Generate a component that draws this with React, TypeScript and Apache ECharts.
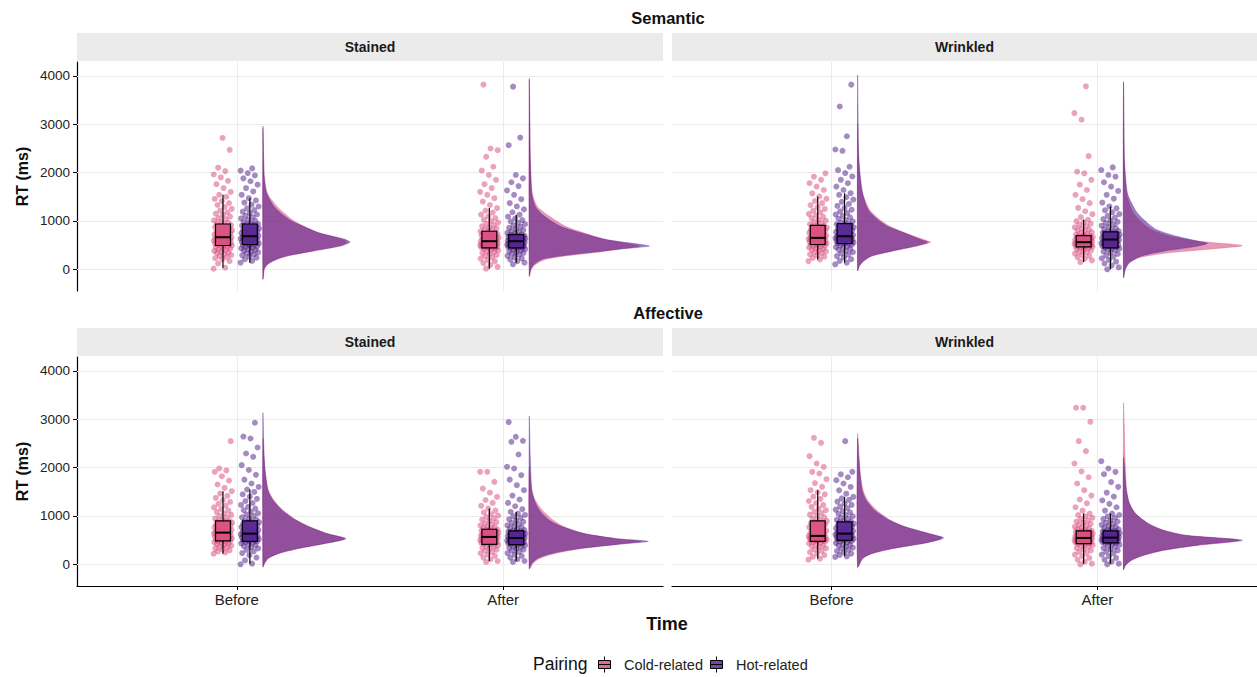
import React, { useEffect, useRef } from "react";
import * as echarts from "echarts";

// ---------- categories ----------
const ROWS = ["Semantic", "Affective"];
const COLS = ["Stained", "Wrinkled"];
const TIME_LABELS = ["Before", "After"];
const X_TICKS = [1, 2];
const Y_TICKS = [0, 1000, 2000, 3000, 4000];
const PAIRINGS = ["Cold-related", "Hot-related"];

// ---------- raw RT points (ms) ----------
// Semantic / Stained
const semStaBefCold = [14, 34, 120, 170, 205, 230, 255, 275, 295, 315, 335, 350, 365, 380, 395, 410, 425, 440, 455, 470, 482, 492, 500, 508, 516, 524, 532, 540, 548, 556, 564, 572, 580, 588, 596, 604, 612, 620, 628, 636, 644, 652, 658, 663, 675, 687, 699, 711, 723, 735, 747, 759, 771, 783, 795, 807, 820, 833, 846, 859, 872, 885, 898, 911, 924, 937, 960, 985, 1010, 1035, 1060, 1090, 1120, 1150, 1180, 1215, 1250, 1290, 1330, 1370, 1410, 1455, 1500, 1539, 1600, 1680, 1760, 1830, 1900, 1960, 2030, 2100, 2469, 2715];
const semStaBefHot = [137, 175, 210, 240, 265, 290, 310, 330, 350, 370, 388, 405, 420, 435, 450, 463, 476, 489, 501, 513, 521, 529, 537, 545, 553, 561, 569, 577, 585, 593, 601, 609, 617, 625, 633, 641, 649, 657, 665, 673, 679, 684, 695, 706, 717, 728, 739, 750, 761, 772, 783, 794, 806, 818, 830, 842, 854, 866, 878, 890, 902, 914, 926, 937, 958, 980, 1003, 1027, 1052, 1078, 1105, 1133, 1162, 1192, 1225, 1260, 1298, 1338, 1380, 1425, 1470, 1540, 1610, 1680, 1750, 1820, 1880, 1940, 1990, 2040, 2086];
const semStaAftCold = [14, 50, 90, 130, 165, 195, 222, 248, 272, 295, 317, 337, 356, 374, 391, 407, 422, 435, 445, 451, 457, 463, 469, 475, 481, 487, 493, 499, 505, 511, 517, 523, 529, 535, 541, 547, 553, 559, 565, 572, 581, 590, 599, 608, 617, 626, 635, 644, 653, 662, 671, 681, 691, 701, 711, 721, 731, 742, 753, 764, 775, 787, 805, 825, 846, 868, 891, 915, 940, 967, 996, 1027, 1060, 1095, 1132, 1172, 1215, 1265, 1330, 1400, 1470, 1540, 1600, 1680, 1760, 1850, 1950, 2040, 2120, 2326, 2462, 2497, 3817];
const semStaAftHot = [103, 137, 170, 200, 228, 254, 278, 300, 320, 339, 357, 374, 390, 405, 419, 432, 445, 451, 457, 463, 469, 475, 481, 487, 493, 499, 505, 511, 517, 523, 529, 535, 541, 547, 553, 559, 565, 572, 581, 587, 593, 599, 605, 611, 617, 623, 629, 635, 641, 648, 655, 662, 669, 676, 683, 690, 697, 704, 711, 718, 735, 753, 772, 792, 813, 835, 858, 882, 907, 933, 960, 988, 1018, 1050, 1088, 1129, 1180, 1240, 1300, 1368, 1450, 1540, 1630, 1720, 1800, 1880, 1950, 2565, 2722, 3776];
// Semantic / Wrinkled
const semWriBefCold = [171, 205, 235, 262, 287, 310, 332, 352, 371, 389, 406, 422, 437, 451, 465, 478, 490, 502, 513, 520, 527, 534, 541, 548, 555, 562, 569, 576, 583, 590, 597, 604, 611, 618, 625, 632, 639, 645, 650, 662, 674, 686, 698, 710, 722, 734, 746, 758, 770, 782, 795, 808, 821, 834, 847, 860, 873, 886, 898, 910, 932, 955, 979, 1004, 1030, 1057, 1085, 1115, 1146, 1178, 1212, 1248, 1286, 1326, 1368, 1412, 1458, 1505, 1570, 1640, 1710, 1780, 1850, 1915, 1984];
const semWriBefHot = [103, 137, 175, 210, 243, 274, 303, 330, 355, 378, 400, 421, 441, 460, 478, 495, 511, 523, 534, 541, 548, 555, 562, 569, 576, 583, 590, 597, 604, 611, 618, 625, 632, 639, 646, 653, 660, 667, 674, 679, 684, 696, 708, 720, 732, 744, 756, 768, 780, 792, 804, 817, 830, 843, 856, 869, 882, 895, 908, 921, 933, 944, 968, 993, 1019, 1046, 1074, 1103, 1133, 1165, 1198, 1233, 1270, 1310, 1352, 1396, 1442, 1490, 1540, 1573, 1640, 1710, 1780, 1850, 1920, 1990, 2050, 2120, 2449, 2476, 2750, 3365, 3817];
const semWriAftCold = [150, 185, 218, 248, 275, 300, 323, 345, 365, 384, 402, 419, 435, 450, 465, 470, 475, 480, 485, 490, 495, 500, 505, 510, 515, 520, 525, 530, 535, 540, 545, 550, 555, 561, 568, 575, 582, 589, 596, 603, 610, 617, 624, 631, 638, 645, 652, 659, 666, 674, 682, 690, 698, 713, 729, 746, 764, 783, 803, 824, 846, 869, 893, 918, 944, 971, 998, 1026, 1080, 1140, 1200, 1270, 1368, 1450, 1540, 1640, 1750, 1850, 1984, 2018, 2339, 3092, 3228, 3783];
const semWriAftHot = [0, 40, 80, 120, 158, 194, 228, 260, 290, 318, 344, 368, 390, 410, 428, 445, 453, 461, 469, 477, 485, 493, 501, 509, 517, 525, 533, 541, 549, 557, 565, 573, 581, 589, 597, 605, 616, 624, 632, 640, 648, 656, 664, 672, 680, 688, 696, 704, 712, 720, 728, 736, 745, 754, 763, 773, 792, 812, 833, 855, 878, 902, 927, 953, 980, 1008, 1038, 1070, 1105, 1142, 1180, 1220, 1260, 1300, 1380, 1460, 1540, 1620, 1710, 1800, 1915, 1950, 2052, 2107];
// Affective / Stained
const affStaBefCold = [221, 245, 268, 290, 311, 331, 350, 368, 385, 401, 416, 430, 444, 457, 470, 483, 491, 499, 507, 515, 523, 531, 539, 547, 555, 563, 571, 579, 587, 595, 603, 611, 619, 627, 635, 643, 650, 655, 666, 677, 688, 699, 710, 721, 732, 743, 754, 765, 777, 789, 801, 813, 825, 837, 849, 861, 873, 885, 897, 920, 944, 969, 995, 1022, 1050, 1080, 1111, 1143, 1177, 1213, 1251, 1290, 1330, 1372, 1416, 1462, 1511, 1580, 1650, 1730, 1820, 1911, 1940, 1980, 2546];
const affStaBefHot = [0, 14, 80, 140, 190, 232, 268, 300, 328, 353, 376, 397, 416, 434, 450, 464, 476, 484, 492, 500, 508, 516, 524, 532, 540, 548, 556, 564, 572, 580, 588, 596, 604, 612, 620, 628, 635, 647, 659, 671, 683, 695, 707, 719, 731, 743, 755, 767, 780, 793, 806, 819, 832, 845, 858, 871, 884, 897, 921, 946, 972, 999, 1027, 1056, 1087, 1119, 1153, 1189, 1227, 1267, 1309, 1353, 1399, 1447, 1496, 1546, 1600, 1670, 1750, 1850, 1950, 2050, 2222, 2290, 2415, 2600, 2640, 2926];
const affStaAftCold = [48, 69, 105, 140, 172, 202, 230, 256, 280, 303, 324, 344, 363, 381, 398, 414, 421, 428, 435, 442, 449, 456, 463, 470, 477, 484, 491, 498, 505, 512, 519, 526, 533, 540, 547, 554, 560, 566, 574, 582, 590, 598, 606, 614, 622, 630, 638, 646, 654, 662, 670, 678, 686, 694, 702, 710, 718, 725, 743, 762, 782, 803, 825, 848, 872, 897, 923, 950, 978, 1007, 1038, 1072, 1110, 1152, 1210, 1270, 1330, 1394, 1480, 1566, 1704, 1911, 1911];
const affStaAftHot = [48, 69, 105, 140, 172, 202, 230, 256, 280, 302, 322, 341, 359, 376, 392, 407, 414, 421, 428, 435, 442, 449, 456, 463, 470, 477, 484, 491, 498, 505, 512, 519, 526, 533, 540, 545, 552, 559, 566, 573, 580, 587, 594, 601, 608, 615, 622, 629, 636, 643, 650, 658, 666, 674, 682, 690, 707, 725, 744, 764, 785, 807, 830, 854, 879, 905, 932, 960, 990, 1020, 1050, 1083, 1140, 1200, 1270, 1340, 1420, 1532, 1635, 1750, 1842, 1980, 2015, 2270, 2532, 2553, 2636, 2939];
// Affective / Wrinkled
const affWriBefCold = [97, 117, 155, 190, 222, 252, 280, 306, 330, 353, 374, 394, 413, 430, 446, 461, 476, 482, 488, 494, 500, 506, 512, 518, 524, 530, 536, 542, 548, 554, 560, 566, 572, 578, 583, 587, 602, 617, 632, 647, 662, 677, 692, 707, 722, 737, 752, 768, 784, 800, 816, 832, 848, 864, 880, 897, 921, 946, 972, 999, 1027, 1056, 1087, 1119, 1153, 1189, 1227, 1267, 1309, 1353, 1399, 1447, 1490, 1532, 1601, 1680, 1760, 1877, 1911, 2015, 2084, 2236, 2512, 2615];
const affWriBefHot = [152, 166, 195, 223, 250, 275, 299, 322, 344, 365, 385, 404, 422, 439, 455, 470, 484, 497, 504, 511, 518, 525, 532, 539, 546, 553, 560, 567, 574, 581, 588, 595, 602, 609, 616, 623, 630, 635, 646, 657, 668, 679, 690, 701, 712, 723, 734, 745, 757, 769, 781, 793, 805, 817, 829, 841, 853, 865, 876, 897, 919, 942, 966, 991, 1017, 1044, 1072, 1101, 1131, 1162, 1194, 1227, 1261, 1296, 1332, 1363, 1394, 1460, 1530, 1600, 1670, 1739, 1800, 1860, 1911, 2546];
const affWriAftCold = [0, 14, 55, 95, 132, 167, 200, 231, 260, 287, 312, 335, 357, 377, 396, 413, 428, 434, 440, 446, 452, 458, 464, 470, 476, 482, 488, 494, 500, 506, 512, 518, 524, 530, 536, 541, 545, 552, 559, 566, 573, 580, 587, 594, 601, 608, 615, 622, 630, 638, 646, 654, 662, 670, 678, 686, 690, 705, 721, 738, 756, 775, 795, 816, 838, 861, 885, 910, 936, 962, 990, 1019, 1049, 1110, 1180, 1260, 1340, 1420, 1532, 1670, 1800, 1920, 2084, 2339, 2546, 2946, 3236, 3236];
const affWriAftHot = [0, 14, 55, 95, 132, 167, 200, 231, 260, 287, 312, 336, 359, 381, 402, 422, 442, 448, 454, 460, 466, 472, 478, 484, 490, 496, 502, 508, 514, 520, 526, 532, 538, 544, 549, 552, 559, 566, 573, 580, 587, 594, 601, 608, 615, 622, 629, 636, 643, 650, 658, 666, 674, 682, 690, 705, 721, 738, 756, 775, 795, 816, 838, 861, 885, 910, 936, 962, 990, 1019, 1049, 1110, 1180, 1250, 1320, 1400, 1480, 1601, 1700, 1863, 1911, 1980, 2132];

// ---------- box statistics [lower whisker, Q1, median, Q3, upper whisker] ----------
const boxSemStaBefore = [[34, 492, 663, 937, 1539], [137, 513, 684, 937, 1470]];
const boxSemStaAfter = [[14, 445, 581, 787, 1265], [137, 445, 581, 718, 1129]];
const boxSemWriBefore = [[205, 513, 650, 910, 1505], [137, 534, 684, 944, 1573]];
const boxSemWriAfter = [[150, 465, 561, 698, 1026], [0, 445, 616, 773, 1300]];
const boxAffStaBefore = [[221, 483, 655, 897, 1511], [14, 476, 635, 897, 1546]];
const boxAffStaAfter = [[69, 414, 566, 725, 1152], [69, 407, 545, 690, 1083]];
const boxAffWriBefore = [[117, 476, 587, 897, 1532], [166, 497, 635, 876, 1394]];
const boxAffWriAfter = [[14, 428, 545, 690, 1049], [14, 442, 552, 690, 1049]];

// ---------- density curves [RT (ms), density (a.u.)] ----------
const densSemStaBefCold = [[2900, 0], [2400, 0.6], [1900, 1.5], [1570, 4.5], [1300, 14], [1030, 29], [890, 41], [750, 56], [620, 79], [560, 84], [480, 76], [380, 51], [275, 25], [205, 14], [135, 7], [70, 3.3], [0, 1.3], [-200, 0]];
const densSemStaBefHot = [[2950, 0], [2200, 0.8], [1900, 1.3], [1570, 3.8], [1300, 11], [1030, 26], [890, 40], [750, 57], [620, 82], [560, 87], [480, 77], [380, 50], [275, 23], [205, 13], [135, 6.5], [70, 3], [0, 1.2], [-200, 0]];
const densSemStaAftCold = [[3900, 0], [3000, 0.5], [2260, 1.2], [1570, 3], [1300, 8], [1100, 20], [890, 36], [750, 55], [615, 76], [510, 104], [480, 110], [410, 88], [340, 63], [275, 36], [205, 16], [100, 6], [0, 2], [-140, 0]];
const densSemStaAftHot = [[3930, 0], [3000, 0.6], [2260, 1], [1570, 2.5], [1300, 6], [1100, 15], [890, 31], [750, 52], [615, 77], [510, 113], [480, 120], [410, 87], [340, 58], [275, 30], [205, 12], [100, 4.5], [0, 1.5], [-140, 0]];
const densSemWriBefCold = [[3000, 0], [2600, 0.6], [2260, 1.2], [1915, 2.5], [1570, 5], [1230, 12], [1030, 22], [890, 32], [750, 48], [615, 66], [560, 73], [480, 59], [375, 34], [275, 14], [170, 6], [70, 1.7], [-30, 0]];
const densSemWriBefHot = [[4000, 0], [3400, 0.4], [2600, 0.8], [2260, 1.3], [1915, 2.7], [1570, 5], [1230, 10.5], [1030, 20], [890, 30], [750, 47], [615, 63], [560, 70], [480, 58], [375, 34], [275, 14], [170, 6], [70, 1.7], [-30, 0]];
const densSemWriAftCold = [[3860, 0], [2260, 0.8], [1570, 3], [1370, 5.5], [1160, 10], [960, 19], [820, 28], [685, 47], [580, 76], [490, 119], [425, 90], [340, 45], [240, 15], [135, 5], [0, 1.5], [-170, 0]];
const densSemWriAftHot = [[3860, 0], [2260, 1], [1915, 2], [1570, 4], [1370, 8], [1160, 14], [960, 24], [820, 33], [685, 53], [580, 75], [535, 84], [465, 70], [375, 40], [275, 18], [135, 6], [0, 2], [-170, 0]];
const densAffStaBefCold = [[2600, 0], [2220, 1], [1880, 2.4], [1530, 5.5], [1325, 11], [1120, 20], [910, 34], [775, 47], [635, 64], [530, 81], [430, 62], [325, 35], [220, 15], [120, 5], [15, 1.5], [-55, 0]];
const densAffStaBefHot = [[3120, 0], [2570, 0.7], [2220, 1.3], [1880, 2.5], [1530, 5], [1325, 10], [1120, 19], [910, 33], [775, 46], [635, 64], [530, 83], [430, 62], [325, 35], [220, 15], [120, 5], [15, 1.5], [-55, 0]];
const densAffStaAftCold = [[2000, 0], [1530, 2.5], [1325, 6], [1120, 13], [910, 24], [775, 35], [635, 55], [530, 86], [475, 112], [415, 88], [325, 52], [220, 25], [120, 10], [15, 3.5], [-90, 0]];
const densAffStaAftHot = [[3050, 0], [2220, 1], [1530, 2.5], [1325, 5], [1120, 10], [910, 20], [775, 33], [635, 55], [530, 88], [475, 119], [415, 90], [325, 50], [220, 21], [120, 8], [15, 2.5], [-90, 0]];
const densAffWriBefCold = [[2700, 0], [2220, 1.4], [1880, 2.7], [1530, 5.5], [1325, 10], [1120, 19], [910, 33], [775, 47], [635, 70], [545, 84], [440, 67], [325, 35], [220, 14], [120, 5], [-55, 0]];
const densAffWriBefHot = [[2600, 0], [2220, 1.2], [1880, 2.4], [1530, 4.5], [1325, 8.5], [1120, 17], [910, 32], [775, 48], [635, 72], [545, 86], [440, 68], [325, 35], [220, 14], [120, 5], [-55, 0]];
const densAffWriAftCold = [[3326, 0], [2900, 0.7], [2220, 1.5], [1530, 3], [1255, 6], [1050, 12], [840, 25], [705, 40], [600, 62], [497, 116], [395, 75], [290, 40], [185, 20], [85, 8], [-20, 2], [-110, 0]];
const densAffWriAftHot = [[2200, 0], [1530, 3], [1255, 6], [1050, 12], [840, 25], [705, 40], [600, 62], [497, 119], [395, 74], [290, 40], [185, 20], [85, 8], [-20, 2], [-110, 0]];

// ---------- lookup tables [panel][time][pairing] ----------
const POINTS = [
  [[semStaBefCold, semStaBefHot], [semStaAftCold, semStaAftHot]],
  [[semWriBefCold, semWriBefHot], [semWriAftCold, semWriAftHot]],
  [[affStaBefCold, affStaBefHot], [affStaAftCold, affStaAftHot]],
  [[affWriBefCold, affWriBefHot], [affWriAftCold, affWriAftHot]],
];
const BOXES = [
  [boxSemStaBefore, boxSemStaAfter],
  [boxSemWriBefore, boxSemWriAfter],
  [boxAffStaBefore, boxAffStaAfter],
  [boxAffWriBefore, boxAffWriAfter],
];
const DENS = [
  [[densSemStaBefCold, densSemStaBefHot], [densSemStaAftCold, densSemStaAftHot]],
  [[densSemWriBefCold, densSemWriBefHot], [densSemWriAftCold, densSemWriAftHot]],
  [[densAffStaBefCold, densAffStaBefHot], [densAffStaAftCold, densAffStaAftHot]],
  [[densAffWriBefCold, densAffWriBefHot], [densAffWriAftCold, densAffWriAftHot]],
];

// ---------- styling ----------
const FONT = "'Liberation Sans', Arial, Helvetica, sans-serif";
const POINT_COLORS = ["rgba(214,69,122,0.62)", "rgba(74,20,134,0.62)"];
const BOX_FILLS = ["rgba(218,80,128,0.85)", "rgba(88,38,148,0.85)"];
const VIOLIN_FILLS = ["rgba(214,69,122,0.55)", "rgba(74,20,134,0.55)"];
const DODGE = [-0.052, 0.049];
const BOX_HALF = 0.028;
const JITTER = 0.035;
const VIOLIN_OFFSET = 0.098;
const DENS_SCALE = 1 / 266.4;
const GRIDS = [
  { left: 77, top: 62, width: 586, height: 229 },
  { left: 672, top: 62, width: 585, height: 229 },
  { left: 77, top: 357, width: 586, height: 229 },
  { left: 672, top: 357, width: 585, height: 229 },
];
const Y_MIN = -448;
const Y_MAX = 4285;

function jitter(i: number) {
  return (((i * 0.6180339887) % 1) - 0.5) * 2 * JITTER;
}

function buildOption() {
  const xAxis: any[] = [];
  const yAxis: any[] = [];
  const series: any[] = [];
  for (let p = 0; p < 4; p++) {
    const bottom = p >= 2;
    const left = p % 2 === 0;
    xAxis.push({
      type: "value",
      gridIndex: p,
      min: 0.4,
      max: 2.6,
      splitLine: { show: false },
      axisLine: { show: bottom, onZero: false, lineStyle: { color: "#000", width: 1.2 } },
      axisTick: { show: bottom, customValues: X_TICKS, length: 4, lineStyle: { color: "#000", width: 1 } },
      axisLabel: {
        show: bottom,
        customValues: X_TICKS,
        formatter: (v: number) => TIME_LABELS[X_TICKS.indexOf(v)] ?? "",
        fontSize: 15,
        color: "#222",
        margin: 6,
        fontFamily: FONT,
      },
    });
    yAxis.push({
      type: "value",
      gridIndex: p,
      min: Y_MIN,
      max: Y_MAX,
      show: left,
      splitLine: { show: false },
      axisLine: { show: true, onZero: false, lineStyle: { color: "#000", width: 1.2 } },
      axisTick: { show: true, customValues: Y_TICKS, length: 4, lineStyle: { color: "#000", width: 1 } },
      axisLabel: {
        customValues: Y_TICKS,
        formatter: (v: number) => String(v),
        fontSize: 13.5,
        color: "#222",
        margin: 7,
        fontFamily: FONT,
      },
      name: left ? "RT (ms)" : "",
      nameLocation: "middle",
      nameGap: 47,
      nameTextStyle: { fontSize: 16, fontWeight: "bold", color: "#111", fontFamily: FONT },
    });

    // grid lines
    series.push({
      type: "line",
      xAxisIndex: p,
      yAxisIndex: p,
      data: [],
      silent: true,
      z: 1,
      markLine: {
        silent: true,
        z: 1,
        symbol: "none",
        label: { show: false },
        lineStyle: { color: "#ebebeb", width: 1, type: "solid" },
        data: [...Y_TICKS.map((v) => ({ yAxis: v })), ...X_TICKS.map((v) => ({ xAxis: v }))],
      },
    });

    for (let g = 0; g < 2; g++) {
      // half violins
      series.push({
        type: "custom",
        name: PAIRINGS[g],
        xAxisIndex: p,
        yAxisIndex: p,
        z: 2,
        silent: true,
        data: X_TICKS.map((x) => [x, 0]),
        renderItem: (params: any, api: any) => {
          const ti = params.dataIndex;
          const dens = DENS[p][ti][g];
          const base = X_TICKS[ti] + VIOLIN_OFFSET;
          const pts = dens.map(([rt, d]) => api.coord([base + d * DENS_SCALE, rt]));
          return {
            type: "polygon",
            shape: { points: pts, smooth: 0.25 },
            style: { fill: VIOLIN_FILLS[g], stroke: VIOLIN_FILLS[g], lineWidth: 0.6 },
          };
        },
      });
    }
    for (let g = 0; g < 2; g++) {
      // jittered points
      const data: number[][] = [];
      X_TICKS.forEach((x, ti) => {
        POINTS[p][ti][g].forEach((v, i) => {
          data.push([x + DODGE[g] + jitter(i + ti * 7), v]);
        });
      });
      series.push({
        type: "scatter",
        name: PAIRINGS[g],
        xAxisIndex: p,
        yAxisIndex: p,
        z: 3,
        silent: true,
        symbolSize: 6,
        itemStyle: { color: POINT_COLORS[g] },
        data,
      });
    }
    for (let g = 0; g < 2; g++) {
      // boxplots
      series.push({
        type: "custom",
        name: PAIRINGS[g],
        xAxisIndex: p,
        yAxisIndex: p,
        z: 4,
        silent: true,
        data: X_TICKS.map((x) => [x, 0]),
        renderItem: (params: any, api: any) => {
          const ti = params.dataIndex;
          const s = BOXES[p][ti][g];
          const cx = X_TICKS[ti] + DODGE[g];
          const tl = api.coord([cx - BOX_HALF, s[3]]);
          const br = api.coord([cx + BOX_HALF, s[1]]);
          const top = api.coord([cx, s[4]]);
          const bot = api.coord([cx, s[0]]);
          const q3 = api.coord([cx, s[3]]);
          const q1 = api.coord([cx, s[1]]);
          const mL = api.coord([cx - BOX_HALF, s[2]]);
          const mR = api.coord([cx + BOX_HALF, s[2]]);
          const ls = { stroke: "#000", lineWidth: 1.2 };
          return {
            type: "group",
            children: [
              { type: "line", shape: { x1: top[0], y1: top[1], x2: q3[0], y2: q3[1] }, style: ls },
              { type: "line", shape: { x1: q1[0], y1: q1[1], x2: bot[0], y2: bot[1] }, style: ls },
              {
                type: "rect",
                shape: { x: tl[0], y: tl[1], width: br[0] - tl[0], height: br[1] - tl[1] },
                style: { fill: BOX_FILLS[g], stroke: "#000", lineWidth: 1.2 },
              },
              { type: "line", shape: { x1: mL[0], y1: mL[1], x2: mR[0], y2: mR[1] }, style: { stroke: "#000", lineWidth: 2 } },
            ],
          };
        },
      });
    }
  }

  const graphic: any[] = [];
  ROWS.forEach((row, r) => {
    const off = r * 295;
    graphic.push({
      type: "text",
      x: 668,
      y: 18 + off,
      silent: true,
      style: { text: row, fontSize: 16.5, fontWeight: "bold", fontFamily: FONT, fill: "#111", align: "center", verticalAlign: "middle" },
    });
    COLS.forEach((col, c) => {
      const gr = GRIDS[r * 2 + c];
      graphic.push({
        type: "rect",
        silent: true,
        shape: { x: gr.left, y: 33 + off, width: gr.width, height: 28 },
        style: { fill: "#ebebeb" },
      });
      graphic.push({
        type: "text",
        silent: true,
        x: gr.left + gr.width / 2,
        y: 47 + off,
        style: { text: col, fontSize: 14, fontWeight: "bold", fontFamily: FONT, fill: "#1a1a1a", align: "center", verticalAlign: "middle" },
      });
    });
  });
  graphic.push({
    type: "text",
    silent: true,
    x: 667,
    y: 624,
    style: { text: "Time", fontSize: 18, fontWeight: "bold", fontFamily: FONT, fill: "#111", align: "center", verticalAlign: "middle" },
  });
  graphic.push({
    type: "text",
    silent: true,
    x: 533,
    y: 664,
    style: { text: "Pairing", fontSize: 17.5, fontFamily: FONT, fill: "#111", align: "left", verticalAlign: "middle" },
  });

  const icon = "path://M6,0 L6,4 M0,4 L12,4 L12,12 L0,12 Z M0,8 L12,8 M6,12 L6,16";

  return {
    animation: false,
    backgroundColor: "#fff",
    textStyle: { fontFamily: FONT },
    grid: GRIDS.map((g) => ({ ...g, containLabel: false })),
    xAxis,
    yAxis,
    legend: {
      left: 598,
      top: 656,
      itemWidth: 13,
      itemHeight: 16,
      itemGap: 7,
      padding: 0,
      selectedMode: false,
      textStyle: { fontSize: 14.5, color: "#222", fontFamily: FONT, padding: [0, 0, 0, 8] },
      data: PAIRINGS.map((name, g) => ({
        name,
        icon,
        itemStyle: { color: BOX_FILLS[g], borderColor: "#000", borderWidth: 1 },
      })),
    },
    graphic,
    series,
  };
}

export default function App() {
  const ref = useRef<HTMLDivElement>(null);
  useEffect(() => {
    if (!ref.current) return;
    const chart = echarts.init(ref.current, null, { renderer: "svg" });
    chart.setOption(buildOption() as any);
    return () => chart.dispose();
  }, []);
  return (
    <div
      ref={ref}
      style={{ position: "absolute", left: 0, top: 0, width: 1257, height: 677, background: "#fff" }}
    />
  );
}
